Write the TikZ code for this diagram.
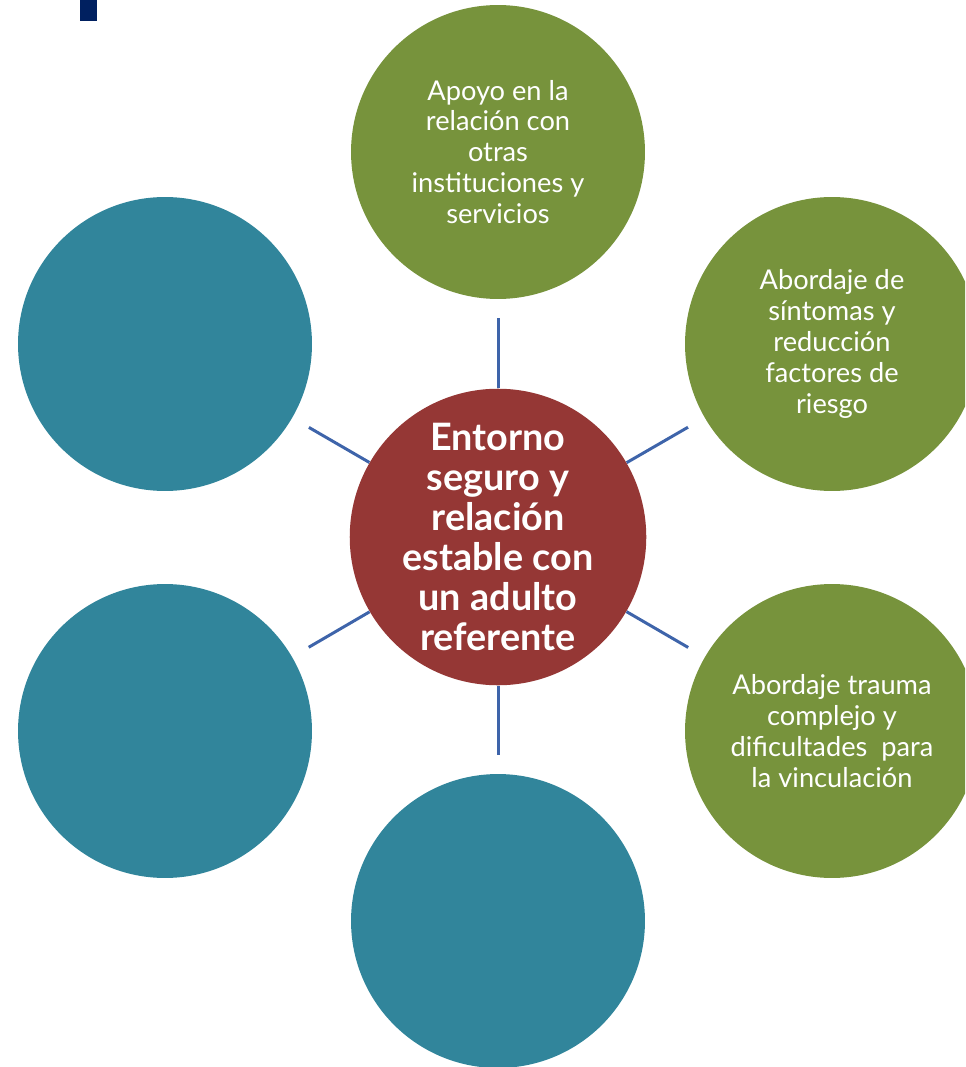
\documentclass[tikz,border=0pt]{standalone}
\usepackage{fontspec}
\setmainfont{Lato}
\definecolor{hubred}{RGB}{149,55,53}
\definecolor{leafgreen}{RGB}{119,147,60}
\definecolor{leafteal}{RGB}{49,133,155}
\definecolor{linkblue}{RGB}{62,100,170}
\definecolor{marknavy}{RGB}{0,32,96}
\tikzset{
    bubble/.style = {circle, minimum size=5.88cm, inner sep=0pt, align=center, text=white},
    hubbubble/.style = {bubble, fill=hubred, font=\fontsize{21.5}{22.7}\selectfont\bfseries},
    greenbubble/.style = {bubble, fill=leafgreen, font=\fontsize{15.5}{17.6}\selectfont},
    tealbubble/.style = {bubble, fill=leafteal},
    link/.style = {draw=linkblue, line width=1.7pt, shorten >=0.38cm}
}
\begin{document}
\begin{tikzpicture}[x=0.02cm, y=-0.02cm]
    \useasboundingbox (0,0) rectangle (965,1067);
    \clip (0,0) rectangle (965,1067);
    \fill[marknavy] (80,0) rectangle (97,21);
    % outer bubbles
    \node[greenbubble] (support) at (498,152) {Apoyo en la\\relación con\\otras\\instituciones y\\servicios};
    \node[greenbubble] (symptoms) at (832,344) {Abordaje de\\síntomas y\\reducción\\factores de\\riesgo};
    \node[greenbubble] (trauma) at (832,731) {Abordaje trauma\\complejo y\\dificultades\ \ para\\la vinculación};
    \node[tealbubble] (bottom) at (498,921) {};
    \node[tealbubble] (lefttop) at (165,344) {};
    \node[tealbubble] (leftbottom) at (165,731) {};
    % centre
    \node[hubbubble] (hub) at (498,537) {Entorno\\seguro y\\relación\\estable con\\un adulto\\referente};
    % links
    \draw[link] (hub) -- (support);
    \draw[link] (hub) -- (symptoms);
    \draw[link] (hub) -- (trauma);
    \draw[link] (hub) -- (bottom);
    \draw[link] (hub) -- (lefttop);
    \draw[link] (hub) -- (leftbottom);
\end{tikzpicture}
\end{document}
